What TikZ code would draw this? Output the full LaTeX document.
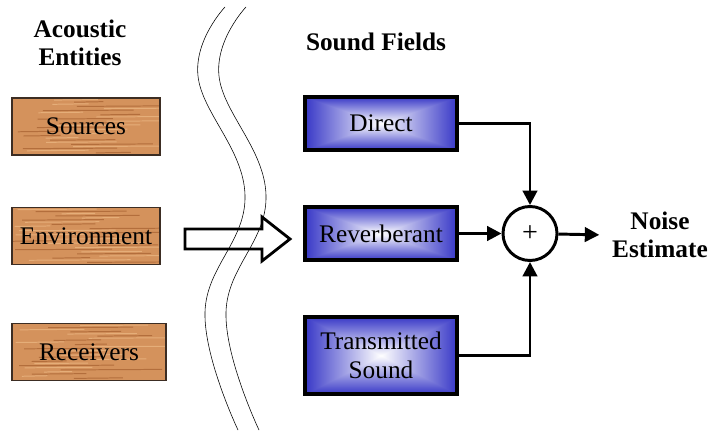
\documentclass[tikz,border=0pt]{standalone}
\usepackage{fontspec}
\setmainfont{Liberation Serif}
\usepackage{tikz}
\usetikzlibrary{arrows.meta,positioning,calc}
\definecolor{WoodBase}{RGB}{212,146,92}
\definecolor{WoodDark}{RGB}{168,98,50}
\definecolor{WoodLight}{RGB}{236,184,132}
\definecolor{WoodEdge}{RGB}{60,45,35}
% white centre fading to blue at every edge
\pgfdeclarefunctionalshading{fieldglow}{\pgfpoint{-50bp}{-50bp}}{\pgfpoint{50bp}{50bp}}{}{
  abs exch abs 2 copy lt {exch} if pop 25 div dup 1 gt {pop 1} if
  dup 0.78 mul 1 exch sub exch
  dup 0.78 mul 1 exch sub exch
  0.22 mul 1 exch sub
}

\begin{document}
\begin{tikzpicture}[
x=0.025cm,y=-0.025cm,
font=\rmfamily\fontsize{18}{21}\selectfont,
title/.style={font=\rmfamily\fontsize{18}{19.5}\selectfont\bfseries,align=center},
wood/.style={draw=WoodEdge,line width=0.8pt,fill=WoodBase,minimum width=3.7cm,minimum height=1.425cm,
  path picture={
    \foreach \k in {1,...,26}{
      \pgfmathsetmacro\fy{\k/27}
      \pgfmathsetmacro\fx{rnd*2.4}
      \pgfmathsetmacro\fl{0.6+rnd*2}
      \draw[\ifodd\k WoodDark\else WoodLight\fi,line width=0.7pt,opacity=0.75]
        ($(path picture bounding box.south west)!\fy!(path picture bounding box.north west)$)
        ++(\fx cm,0pt) -- ++(\fl cm,0.4pt);
    }
  }},
field/.style={draw,line width=2.3pt,shading=fieldglow,align=center,minimum width=3.8cm,minimum height=1.325cm},
arr/.style={-{Triangle[length=0.36cm,width=0.36cm]},line width=2.1pt}
]
\useasboundingbox (0,0) rectangle (711,434);
\pgfmathsetseed{7}
% left column
\node[title] (entities) at (80,43) {Acoustic\\Entities};
\node[wood] (src) at (86,126.5) {Sources};
\node[wood] (env) at (86,236) {Environment};
\node[wood,minimum width=3.85cm] (rcv) at (89,352) {Receivers};
% break between the two halves
\draw[thin] plot[smooth,tension=0.7] coordinates {(225,7) (198,76) (245,195) (205,312) (238,430)};
\draw[thin] plot[smooth,tension=0.7] coordinates {(246,7) (219,76) (266,195) (226,312) (259,430)};
\draw[line width=2pt] (185,229) -- (262,229) -- (262,217) -- (290,239) -- (262,261) -- (262,249) -- (185,249) -- cycle;
% right column
\node[title] (fields) at (376,42) {Sound Fields};
\node[field] (direct) at (381,123.5) {Direct};
\node[field] (reverb) at (381,233.5) {Reverberant};
\node[field,minimum height=1.925cm] (trans) at (381,355.5) {Transmitted\\Sound};
\node[circle,draw,line width=2.1pt,minimum size=1.35cm,inner sep=0pt,font=\rmfamily\fontsize{20}{20}\selectfont] (sum) at (530,233.5) {+};
\node[title] (noise) at (660,235) {Noise\\Estimate};
\draw[arr] (direct.east) -| (sum.north);
\draw[arr] (reverb) -- (sum);
\draw[arr] (trans.east) -| (sum.south);
\draw[arr,shorten >=0.2cm] (sum) -- (noise.west);
\end{tikzpicture}
\end{document}
